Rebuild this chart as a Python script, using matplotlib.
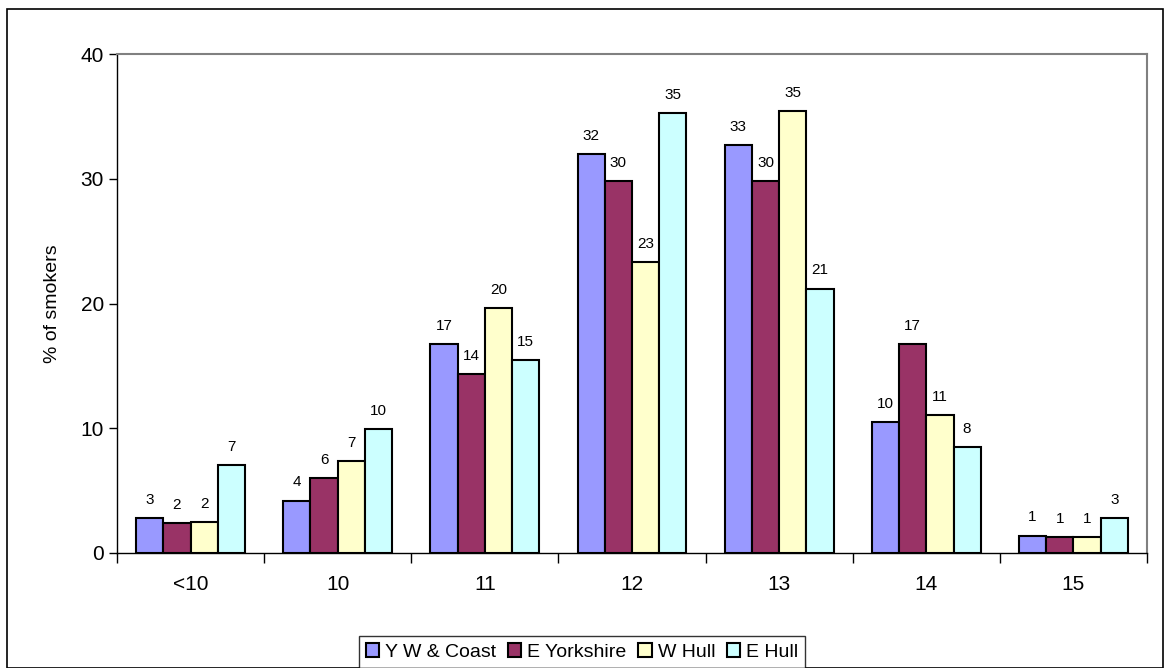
import matplotlib.pyplot as plt
import matplotlib.patches as mpatches
import numpy as np

plt.rcParams['font.family'] = ['Liberation Sans', 'DejaVu Sans']

ages = ['<10', '10', '11', '12', '13', '14', '15']
series = ['Y W & Coast', 'E Yorkshire', 'W Hull', 'E Hull']
yw_coast = [2.8, 4.2, 16.75, 32.0, 32.7, 10.5, 1.4]
e_yorks = [2.4, 6.0, 14.35, 29.8, 29.8, 16.75, 1.25]
w_hull = [2.45, 7.35, 19.6, 23.3, 35.4, 11.05, 1.25]
e_hull = [7.05, 9.95, 15.45, 35.3, 21.2, 8.5, 2.8]
colors = ['#9999FF', '#993366', '#FFFFCC', '#CCFFFF']

fig = plt.figure(figsize=(11.64, 6.68), dpi=100)
ax = fig.add_axes([117 / 1164, 115 / 668, 1030 / 1164, 499 / 668])

x = np.arange(len(ages))
w = 0.185
for i, (vals, name) in enumerate(zip([yw_coast, e_yorks, w_hull, e_hull], series)):
    bars = ax.bar(x + (i - 1.5) * w, vals, w, color=colors[i], edgecolor='black',
                  linewidth=1.5, label=name, zorder=3)
    ax.bar_label(bars, labels=[str(int(round(v))) for v in vals], padding=8, fontsize=11)

ax.set_xlim(-0.5, len(ages) - 0.5)
ax.set_ylim(0, 40)
ax.set_yticks([0, 10, 20, 30, 40])
ax.set_xticks(x)
ax.set_xticklabels(ages, fontsize=15)
ax.set_xticks(np.arange(len(ages) + 1) - 0.5, minor=True)
ax.tick_params(axis='x', which='major', length=0, pad=16)
ax.tick_params(axis='x', which='minor', length=7, width=1, direction='out')
ax.tick_params(axis='y', labelsize=15, length=6, width=1)
ax.set_ylabel('% of smokers', fontsize=14, labelpad=14)

for s in ['top', 'right']:
    ax.spines[s].set_color('#808080')
    ax.spines[s].set_linewidth(1.5)
for s in ['left', 'bottom']:
    ax.spines[s].set_color('black')
    ax.spines[s].set_linewidth(1)

leg = fig.legend(loc='lower center', bbox_to_anchor=(582 / 1164, -0.014), ncol=4,
                 fontsize=14, frameon=True, fancybox=False, edgecolor='black',
                 handlelength=0.7, handleheight=0.7, handletextpad=0.3,
                 columnspacing=0.6, borderpad=0.35)
leg.get_frame().set_linewidth(1)

fig.patches.append(mpatches.Rectangle((7 / 1164, 0), 1156 / 1164, 659 / 668,
                                      transform=fig.transFigure, fill=False,
                                      edgecolor='black', linewidth=1.2))

fig.savefig('out.png', dpi=100)
